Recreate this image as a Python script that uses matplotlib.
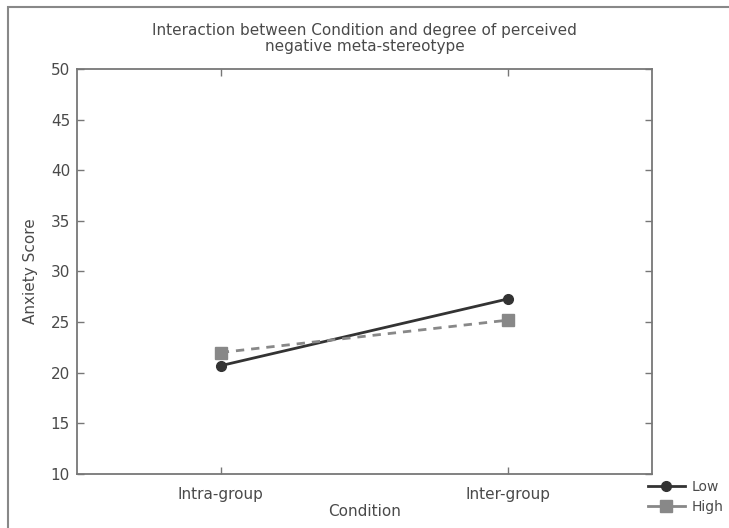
import matplotlib
matplotlib.use("Agg")
import matplotlib.pyplot as plt
from matplotlib.patches import Rectangle
from matplotlib.lines import Line2D

conditions = ["Intra-group", "Inter-group"]
low_values = [20.7, 27.3]
high_values = [22.0, 25.2]
y_ticks = [10, 15, 20, 25, 30, 35, 40, 45, 50]

W, H = 729, 528
fig = plt.figure(figsize=(W / 100, H / 100), dpi=100)
ax = fig.add_axes([77 / W, 1 - 474 / H, (652 - 77) / W, (474 - 69) / H])

text_color = "#4a4a4a"
spine_color = "#777777"
low_color = "#333333"
high_color = "#888888"

x = list(range(1, len(conditions) + 1))
ax.plot(x, low_values, color=low_color, lw=2, marker="o", ms=7)
ax.plot(x, high_values, color=high_color, lw=2, ls=(0, (3, 2.5)), marker="s", ms=8)

ax.set_xlim(0.5, 2.5)
ax.set_ylim(10, 50)
ax.set_xticks(x)
ax.set_xticklabels(conditions)
ax.set_yticks(y_ticks)
ax.tick_params(direction="in", top=True, right=True, color=spine_color,
               labelcolor=text_color, labelsize=11, length=5, width=1, pad=5)
ax.tick_params(axis="x", pad=9)
for s in ax.spines.values():
    s.set_color(spine_color)
    s.set_linewidth(1.3)

ax.set_xlabel("Condition", color=text_color, fontsize=11, labelpad=2)
ax.set_ylabel("Anxiety Score", color=text_color, fontsize=11, labelpad=9)
ax.set_title("Interaction between Condition and degree of perceived\nnegative meta-stereotype",
             color=text_color, fontsize=11, pad=13, linespacing=1.1)

handles = [Line2D([], [], color=low_color, lw=2, marker="o", ms=7),
           Line2D([], [], color=high_color, lw=2, marker="s", ms=8)]
leg = ax.legend(handles, ["Low", "High"], loc="upper left", bbox_to_anchor=(641 / W, 1 - 473 / H),
                bbox_transform=fig.transFigure, frameon=False, fontsize=10,
                handlelength=2.65, handletextpad=0.5, labelspacing=0.45, borderpad=0)
for t in leg.get_texts():
    t.set_color(text_color)

fig.patches.append(Rectangle((8 / W, -0.1), 1.2, 1 - 7 / H + 0.1, transform=fig.transFigure,
                             fill=False, edgecolor="#888888", lw=1.5))

fig.savefig("out.png", dpi=100)
